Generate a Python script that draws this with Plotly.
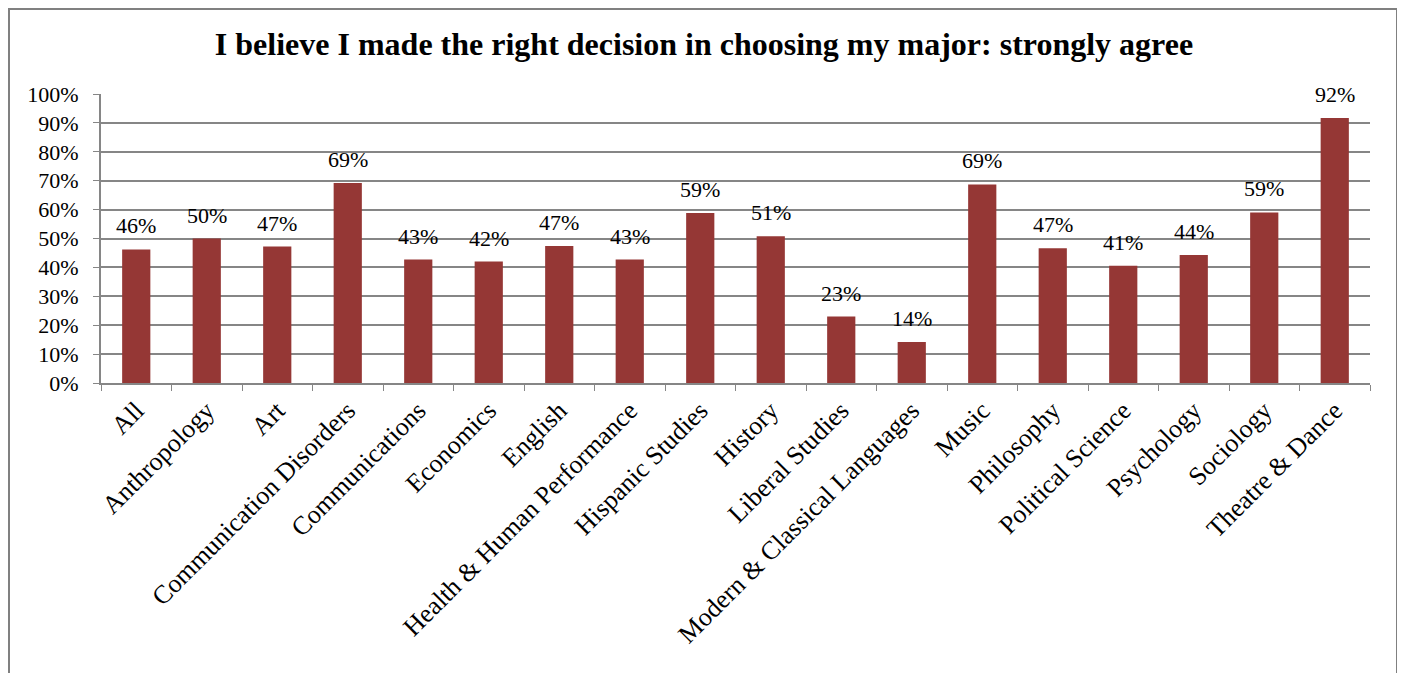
import plotly.graph_objects as go

categories = ["All", "Anthropology", "Art", "Communication Disorders", "Communications",
              "Economics", "English", "Health & Human Performance", "Hispanic Studies",
              "History", "Liberal Studies", "Modern & Classical Languages", "Music",
              "Philosophy", "Political Science", "Psychology", "Sociology", "Theatre & Dance"]
values = [0.462, 0.50, 0.472, 0.692, 0.427, 0.42, 0.474, 0.427, 0.588,
          0.508, 0.23, 0.142, 0.687, 0.466, 0.406, 0.443, 0.59, 0.917]
y_ticks = [0, 0.1, 0.2, 0.3, 0.4, 0.5, 0.6, 0.7, 0.8, 0.9, 1.0]
title = "I believe I made the right decision in choosing my major: strongly agree"

FONT = "Liberation Serif, Times New Roman, serif"

fig = go.Figure(go.Bar(
    x=categories, y=values,
    marker=dict(color="#953735", line=dict(width=0)),
    hoverinfo="x+y",
))

# data labels placed above bars via annotations (positions from data)
for c, v in zip(categories, values):
    fig.add_annotation(x=c, y=v, text=f"{v:.0%}", showarrow=False,
                       xanchor="center", yanchor="bottom", yshift=9,
                       font=dict(family=FONT, size=22, color="#000000"))

# page has an 8px body margin in the browser; coordinates below account for it
W, H = 1397, 665
L, R, T, B = 93, 35, 86, 290
pw = W - L - R
ph = H - T - B

def px_x(px):
    return (px - L) / pw

def px_y(py):
    return (H - B - py) / ph

fig.update_layout(
    width=W, height=H,
    margin=dict(l=L, r=R, t=T, b=B, autoexpand=False),
    paper_bgcolor="white", plot_bgcolor="white",
    bargap=0.6,
    showlegend=False,
    font=dict(family=FONT, size=22, color="#000000"),
    title=dict(text="<b>" + title + "</b>", x=696 / W, xref="container", xanchor="center",
               y=1 - 36 / H, yref="container", yanchor="middle",
               font=dict(family=FONT, size=32, color="#000000")),
    xaxis=dict(
        tickangle=-45, tickson="boundaries", ticks="outside", ticklen=6,
        tickcolor="#868686", showline=True, linecolor="#868686", linewidth=2,
        showgrid=False, tickfont=dict(family=FONT, size=26, color="#000000"),
        fixedrange=True,
    ),
    yaxis=dict(
        range=[0, 1], tickvals=y_ticks, tickformat=".0%", ticks="outside", ticklen=6,
        ticklabelstandoff=10,
        tickcolor="#868686", showline=True, linecolor="#868686", linewidth=2,
        showgrid=True, gridcolor="#868686", gridwidth=1.5, zeroline=False,
        tickfont=dict(family=FONT, size=22, color="#000000"),
        fixedrange=True,
    ),
    shapes=[dict(type="rect", xref="paper", yref="paper",
                 x0=px_x(1), x1=px_x(1389), y0=px_y(700), y1=px_y(1),
                 line=dict(color="#808080", width=2), fillcolor="rgba(0,0,0,0)",
                 layer="below")],
)

fig.write_html("out.html")
